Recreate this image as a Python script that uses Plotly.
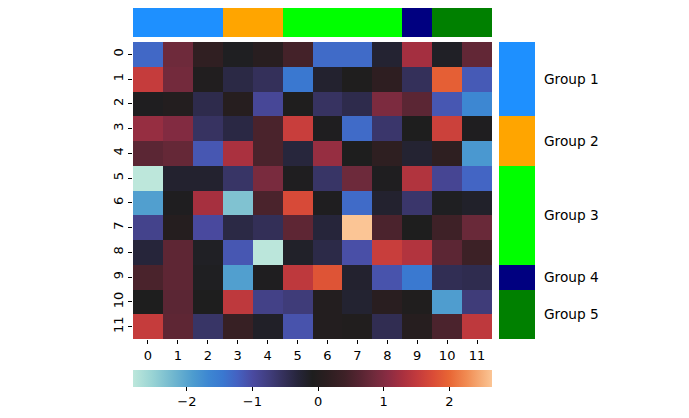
import plotly.graph_objects as go

PAGE_W, PAGE_H = 689, 418
OFF = 8  # default body margin of the page
W, H = PAGE_W - OFF, PAGE_H - OFF

row_labels = [str(i) for i in range(12)]
col_labels = [str(i) for i in range(12)]

values = [
    [-1.29, 0.84, 0.2, -0.12, 0.08, 0.46, -1.32, -1.32, -0.24, 1.25, -0.15, 0.74],
    [1.53, 0.88, -0.03, -0.38, -0.52, -1.45, -0.22, -0.06, 0.17, -0.52, 1.94, -1.15],
    [-0.1, 0.0, -0.43, 0.05, -0.93, -0.06, -0.57, -0.43, 0.95, 0.68, -1.12, -1.67],
    [1.15, 1.0, -0.57, -0.37, 0.52, 1.56, -0.1, -1.32, -0.63, -0.08, 1.6, -0.1],
    [0.68, 0.76, -1.12, 1.3, 0.52, -0.32, 1.15, -0.08, 0.18, -0.24, 0.18, -1.86],
    [-2.82, -0.22, -0.22, -0.6, 0.93, -0.1, -0.6, 0.83, -0.1, 1.36, -0.9, -1.26],
    [-1.94, -0.1, 1.27, -2.33, 0.52, 1.72, -0.1, -1.32, -0.22, -0.63, -0.12, -0.18],
    [-0.85, 0.03, -0.98, -0.38, -0.5, 0.7, -0.3, 2.65, 0.53, -0.08, 0.41, 0.8],
    [-0.3, 0.7, -0.14, -1.12, -2.8, -0.17, -0.4, -1.04, 1.56, 1.37, 0.69, 0.38],
    [0.52, 0.7, -0.12, -1.94, -0.1, 1.47, 1.83, -0.22, -1.08, -1.47, -0.48, -0.45],
    [-0.08, 0.68, -0.08, 1.47, -0.82, -0.72, 0.0, -0.23, 0.1, -0.05, -1.92, -0.72],
    [1.53, 0.7, -0.6, 0.3, -0.16, -1.08, 0.0, -0.04, -0.47, 0.05, 0.53, 1.47],
]

group_names = ["Group 1", "Group 2", "Group 3", "Group 4", "Group 5"]
group_colors = ["#1e90ff", "#ffa500", "#00ff00", "#000080", "#008000"]
group_of_index = [0, 0, 0, 1, 1, 2, 2, 2, 2, 3, 4, 4]

colorbar_ticks = [-2, -1, 0, 1, 2]

icefire = [
    [0.0, "#bde7db"], [0.055, "#98d3d4"], [0.11, "#72b8cf"], [0.167, "#4d9ccf"],
    [0.21, "#3d87d2"], [0.25, "#3a78d0"], [0.29, "#4462c2"], [0.334, "#4a4aa0"],
    [0.38, "#403d7c"], [0.42, "#34305a"], [0.46, "#26253a"], [0.5, "#1e1e1e"],
    [0.54, "#2b1e20"], [0.59, "#3e2127"], [0.63, "#552431"], [0.669, "#6e2a3b"],
    [0.71, "#8a2c43"], [0.75, "#a8303f"], [0.79, "#c23a3d"], [0.836, "#da4c37"],
    [0.88, "#e86534"], [0.93, "#f18c53"], [0.97, "#f6ad78"], [1.0, "#fbc595"],
]

n = len(group_colors)
group_scale = []
for i, c in enumerate(group_colors):
    group_scale.append([i / n, c])
    group_scale.append([(i + 1) / n, c])

flat = [v for r in values for v in r]
zmin, zmax = min(flat), max(flat)

def px_x(p):
    return min(1.0, max(0.0, (p - OFF) / W))

def px_y(p):
    return min(1.0, max(0.0, 1 - (p - OFF) / H))

fig = go.Figure()

fig.add_trace(go.Heatmap(
    z=values, x=list(range(12)), y=list(range(12)),
    colorscale=icefire, zmin=zmin, zmax=zmax,
    xaxis="x", yaxis="y",
    colorbar=dict(
        orientation="h", x=px_x(312.5), xanchor="center", len=359 / W, lenmode="fraction",
        y=px_y(370), yanchor="top", thickness=17, outlinewidth=0, xpad=0, ypad=0,
        tickvals=colorbar_ticks, ticktext=["\u22122", "\u22121", "0", "1", "2"],
        ticks="outside", ticklen=4, tickcolor="black",
        tickfont=dict(family="DejaVu Sans", size=13, color="black"),
    ),
))

fig.add_trace(go.Heatmap(
    z=[group_of_index], x=list(range(12)), y=[0],
    colorscale=group_scale, zmin=-0.5, zmax=n - 0.5, showscale=False,
    xaxis="x2", yaxis="y2",
))

fig.add_trace(go.Heatmap(
    z=[[g] for g in group_of_index], x=[0], y=list(range(12)),
    colorscale=group_scale, zmin=-0.5, zmax=n - 0.5, showscale=False,
    xaxis="x3", yaxis="y3",
))

tickfont = dict(family="DejaVu Sans", size=13, color="black")

annotations = []
for gi, name in enumerate(group_names):
    idx = [i for i, g in enumerate(group_of_index) if g == gi]
    center = (min(idx) + max(idx)) / 2
    annotations.append(dict(
        text=name, xref="paper", x=px_x(542), xanchor="left",
        yref="y3", y=center, yanchor="middle", showarrow=False,
        font=dict(family="DejaVu Sans", size=13.7, color="black"),
    ))

fig.update_layout(
    width=W, height=H, margin=dict(l=0, r=0, t=0, b=0),
    paper_bgcolor="white", plot_bgcolor="white",
    xaxis=dict(domain=[px_x(133), px_x(492)], range=[-0.5, 11.5],
               tickvals=list(range(12)), ticktext=col_labels,
               ticks="outside", ticklen=4, tickcolor="black", tickfont=tickfont,
               showgrid=False, zeroline=False, showline=False, anchor="y"),
    yaxis=dict(domain=[px_y(339), px_y(42)], range=[11.5, -0.5],
               tickvals=list(range(12)), ticktext=row_labels, tickangle=-90,
               ticks="outside", ticklen=4, tickcolor="black", tickfont=tickfont,
               showgrid=False, zeroline=False, showline=False, anchor="x"),
    xaxis2=dict(domain=[px_x(133), px_x(492)], range=[-0.5, 11.5], visible=False, anchor="y2"),
    yaxis2=dict(domain=[px_y(37), px_y(7)], range=[-0.5, 0.5], visible=False, anchor="x2"),
    xaxis3=dict(domain=[px_x(499), px_x(535)], range=[-0.5, 0.5], visible=False, anchor="y3"),
    yaxis3=dict(domain=[px_y(339), px_y(42)], range=[11.5, -0.5], visible=False, anchor="x3"),
    annotations=annotations,
)

fig.write_html("out.html")
